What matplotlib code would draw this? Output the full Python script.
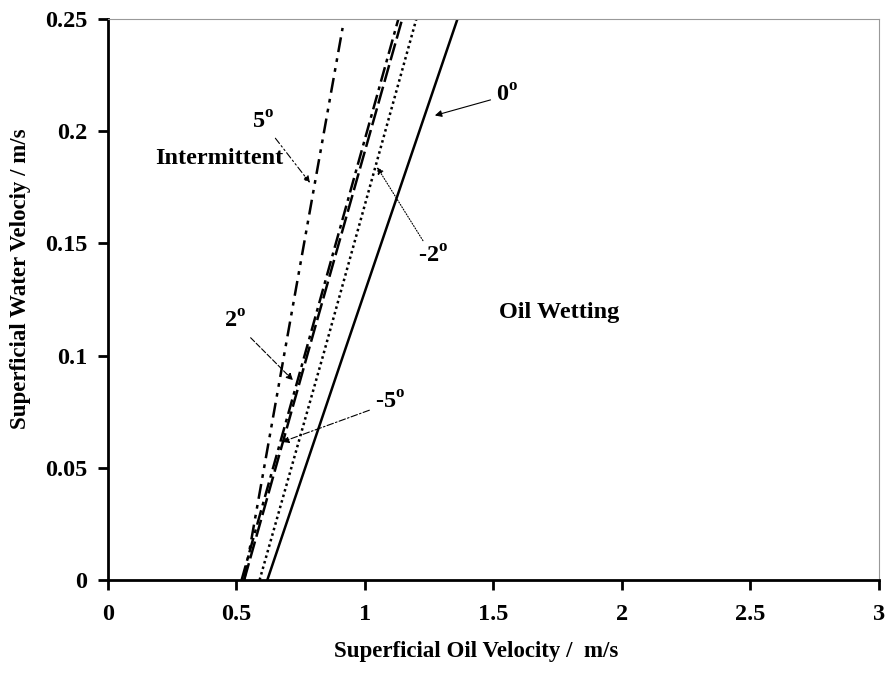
"""Oil wetting / intermittent transition boundaries at several inclinations."""

import matplotlib

matplotlib.use("Agg")
import matplotlib.pyplot as plt

plt.rcParams["font.family"] = "Liberation Serif"
plt.rcParams["font.weight"] = "bold"
plt.rcParams["mathtext.fontset"] = "custom"
plt.rcParams["mathtext.rm"] = "Liberation Serif:bold"
plt.rcParams["mathtext.bf"] = "Liberation Serif:bold"

# boundary lines: water velocity (y) vs oil velocity (x)
y_pts = [0.0, 0.1, 0.25]
x_0deg = [0.62, 0.915, 1.36]
x_m2deg = [0.59, 0.837, 1.20]
x_2deg = [0.53, 0.775, 1.145]
x_m5deg = [0.52, 0.765, 1.13]
y_5deg = [0.0, 0.1, 0.246]
x_5deg = [0.53, 0.685, 0.913]

# annotation labels: (text, text position, arrow target)
angle_labels = ["0", "5", "-2", "2", "-5"]
label_xy = [(1.553, 0.216), (0.603, 0.204), (1.265, 0.144), (0.494, 0.115), (1.097, 0.079)]
arrow_xy = [(1.272, 0.207), (0.786, 0.177), (1.047, 0.184), (0.72, 0.089), (0.677, 0.0615)]

x_ticks = [0, 0.5, 1, 1.5, 2, 2.5, 3]
y_ticks = [0, 0.05, 0.1, 0.15, 0.2, 0.25]

style_solid = "-"
style_dot = (0, (1, 1.3))
style_dash = (0, (7, 2))
style_dashdot = (0, (6, 2, 1.5, 2))
style_dashdotdot = (0, (6, 2.5, 1.5, 2.5, 1.5, 2.5))

fig = plt.figure(figsize=(8.9, 6.75), dpi=100)
ax = fig.add_axes([0.1213, 0.1407, 0.8663, 0.8312])

ax.plot(x_0deg, y_pts, color="black", lw=1.8, linestyle=style_solid)
ax.plot(x_m2deg, y_pts, color="black", lw=1.8, linestyle=style_dot)
ax.plot(x_2deg, y_pts, color="black", lw=1.8, linestyle=style_dash)
ax.plot(x_m5deg, y_pts, color="black", lw=1.8, linestyle=style_dashdot)
ax.plot(x_5deg, y_5deg, color="black", lw=1.8, linestyle=style_dashdotdot)

arrow_styles = [style_solid, style_dashdotdot, (0, (1, 1.5)), (0, (5, 2)), style_dashdot]
for lab, txy, axy, ls in zip(angle_labels, label_xy, arrow_xy, arrow_styles):
    ax.annotate(
        lab + r"$^{\mathbf{o}}$",
        xy=axy,
        xytext=txy,
        ha="center",
        va="center",
        fontsize=17.5,
        fontweight="bold",
        arrowprops=dict(arrowstyle="-|>", color="black", lw=0.8,
                        linestyle=ls, mutation_scale=10, shrinkA=2, shrinkB=0),
    )

ax.text(0.432, 0.188, "Intermittent", ha="center", va="center", fontsize=17.5, fontweight="bold")
ax.text(1.755, 0.119, "Oil Wetting", ha="center", va="center", fontsize=17.5, fontweight="bold")

ax.set_xlim(0, 3)
ax.set_ylim(0, 0.25)
ax.set_xticks(x_ticks)
ax.set_xticklabels(["0", "0.5", "1", "1.5", "2", "2.5", "3"])
ax.set_yticks(y_ticks)
ax.set_yticklabels(["0", "0.05", "0.1", "0.15", "0.2", "0.25"])
ax.tick_params(direction="out", length=7, width=2, labelsize=17.5)
ax.tick_params(axis="y", pad=8)
ax.tick_params(axis="x", pad=10)
for lbl in ax.get_xticklabels() + ax.get_yticklabels():
    lbl.set_fontweight("bold")

for side in ("left", "bottom"):
    ax.spines[side].set_linewidth(2)
    ax.spines[side].set_color("black")
for side in ("top", "right"):
    ax.spines[side].set_linewidth(0.8)
    ax.spines[side].set_color("#999999")

ax.set_xlabel("Superficial Oil Velocity /  m/s", fontsize=16.5, fontweight="bold")
ax.set_ylabel("Superficial Water Velociy / m/s", fontsize=16.5, fontweight="bold")
ax.xaxis.set_label_coords(0.477, -0.108)
ax.yaxis.set_label_coords(-0.1, 0.537)

fig.savefig("out.png", dpi=100)
